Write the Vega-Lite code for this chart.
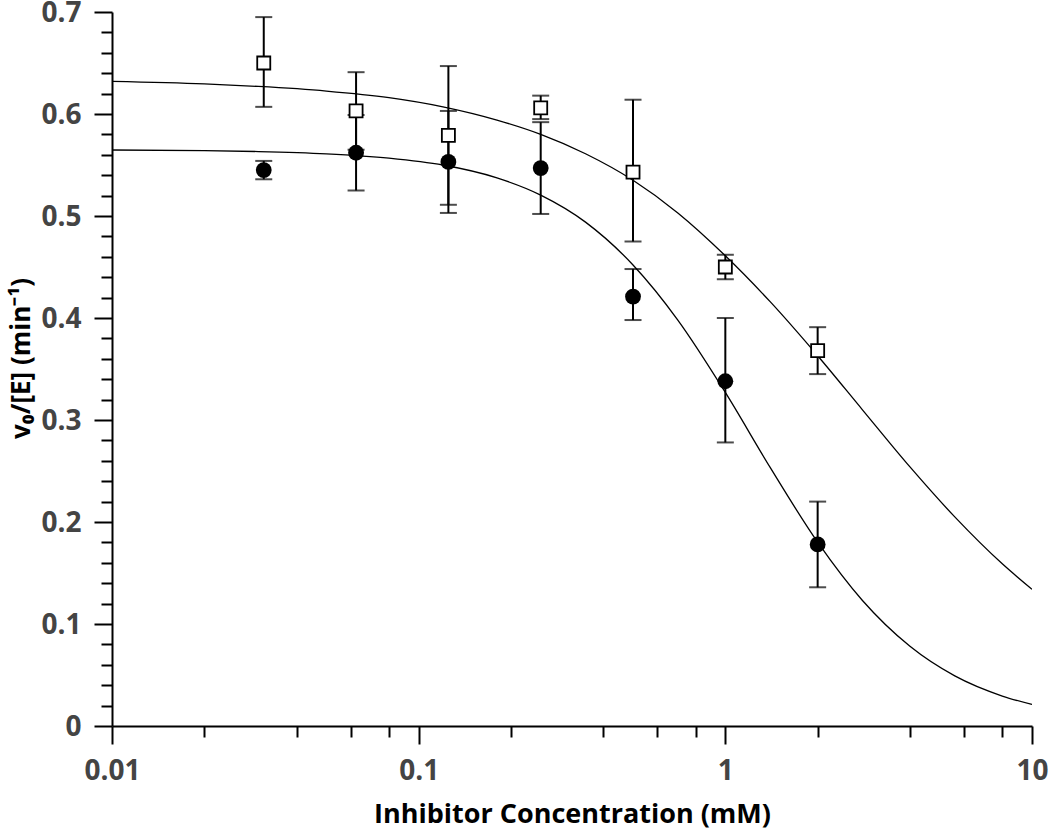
{
  "$schema": "https://vega.github.io/schema/vega-lite/v6.json",
  "width": 920,
  "height": 714,
  "autosize": {"type": "none"},
  "padding": {"left": 112, "top": 12, "right": 18, "bottom": 106},
  "background": "white",
  "config": {
    "view": {"stroke": null},
    "axis": {"labelOverlap": false, "labelBound": false, "labelFlush": false, "grid": false}
  },
  "resolve": {"axis": {"x": "independent", "y": "independent"}},
  "datasets": {
    "pts": [
      {"conc": 0.03125, "v": 0.545, "lo": 0.536, "hi": 0.554, "series": "circle"},
      {"conc": 0.0625, "v": 0.562, "lo": 0.525, "hi": 0.599, "series": "circle"},
      {"conc": 0.125, "v": 0.553, "lo": 0.503, "hi": 0.603, "series": "circle"},
      {"conc": 0.25, "v": 0.547, "lo": 0.502, "hi": 0.592, "series": "circle"},
      {"conc": 0.5, "v": 0.421, "lo": 0.398, "hi": 0.448, "series": "circle"},
      {"conc": 1, "v": 0.338, "lo": 0.278, "hi": 0.4, "series": "circle"},
      {"conc": 2, "v": 0.178, "lo": 0.136, "hi": 0.22, "series": "circle"},
      {"conc": 0.03125, "v": 0.65, "lo": 0.607, "hi": 0.695, "series": "square"},
      {"conc": 0.0625, "v": 0.603, "lo": 0.565, "hi": 0.641, "series": "square"},
      {"conc": 0.125, "v": 0.579, "lo": 0.511, "hi": 0.647, "series": "square"},
      {"conc": 0.25, "v": 0.606, "lo": 0.595, "hi": 0.618, "series": "square"},
      {"conc": 0.5, "v": 0.543, "lo": 0.475, "hi": 0.614, "series": "square"},
      {"conc": 1, "v": 0.45, "lo": 0.438, "hi": 0.462, "series": "square"},
      {"conc": 2, "v": 0.368, "lo": 0.345, "hi": 0.391, "series": "square"}
    ],
    "curve": [
      {"conc": 0.01, "v": 0.632, "series": "square"},
      {"conc": 0.02, "v": 0.6295, "series": "square"},
      {"conc": 0.03, "v": 0.627, "series": "square"},
      {"conc": 0.05, "v": 0.6225, "series": "square"},
      {"conc": 0.08, "v": 0.616, "series": "square"},
      {"conc": 0.12, "v": 0.607, "series": "square"},
      {"conc": 0.18, "v": 0.594, "series": "square"},
      {"conc": 0.25, "v": 0.58, "series": "square"},
      {"conc": 0.35, "v": 0.561, "series": "square"},
      {"conc": 0.5, "v": 0.535, "series": "square"},
      {"conc": 0.7, "v": 0.503, "series": "square"},
      {"conc": 1.0, "v": 0.461, "series": "square"},
      {"conc": 1.4, "v": 0.416, "series": "square"},
      {"conc": 2.0, "v": 0.363, "series": "square"},
      {"conc": 2.8, "v": 0.31, "series": "square"},
      {"conc": 4.0, "v": 0.254, "series": "square"},
      {"conc": 5.6, "v": 0.205, "series": "square"},
      {"conc": 8.0, "v": 0.159, "series": "square"},
      {"conc": 10, "v": 0.134, "series": "square"},
      {"conc": 0.01, "v": 0.5647, "series": "circle"},
      {"conc": 0.02, "v": 0.564, "series": "circle"},
      {"conc": 0.03, "v": 0.5632, "series": "circle"},
      {"conc": 0.05, "v": 0.561, "series": "circle"},
      {"conc": 0.08, "v": 0.5568, "series": "circle"},
      {"conc": 0.12, "v": 0.55, "series": "circle"},
      {"conc": 0.18, "v": 0.5374, "series": "circle"},
      {"conc": 0.25, "v": 0.5205, "series": "circle"},
      {"conc": 0.35, "v": 0.494, "series": "circle"},
      {"conc": 0.5, "v": 0.452, "series": "circle"},
      {"conc": 0.7, "v": 0.398, "series": "circle"},
      {"conc": 1.0, "v": 0.327, "series": "circle"},
      {"conc": 1.4, "v": 0.2535, "series": "circle"},
      {"conc": 2.0, "v": 0.1802, "series": "circle"},
      {"conc": 2.8, "v": 0.123, "series": "circle"},
      {"conc": 4.0, "v": 0.0781, "series": "circle"},
      {"conc": 5.6, "v": 0.0491, "series": "circle"},
      {"conc": 8.0, "v": 0.0294, "series": "circle"},
      {"conc": 10, "v": 0.0211, "series": "circle"}
    ]
  },
  "layer": [
    {
      "data": {"name": "curve"},
      "mark": {"type": "line", "color": "black", "strokeWidth": 1.3, "interpolate": "monotone", "clip": true},
      "encoding": {
        "x": {
          "field": "conc", "type": "quantitative",
          "scale": {"type": "log", "domain": [0.01, 10], "nice": false},
          "axis": {
            "orient": "bottom",
            "title": "Inhibitor Concentration (mM)",
            "values": [0.01, 0.1, 1, 10],
            "format": "~g",
            "tickSize": 18,
            "labelOverlap": false,
            "domainColor": "black", "domainWidth": 2,
            "tickColor": "black", "tickWidth": 2,
            "labelFont": "Open Sans", "labelFontSize": 28, "labelFontWeight": "bold", "labelColor": "#444444",
            "labelPadding": 13,
            "titleFont": "Open Sans", "titleFontSize": 27, "titleFontWeight": "bold", "titleColor": "black",
            "titlePadding": 16
          }
        },
        "y": {
          "field": "v", "type": "quantitative",
          "scale": {"domain": [0, 0.7], "nice": false, "zero": false},
          "axis": {
            "orient": "left",
            "title": "v₀/[E] (min⁻¹)",
            "values": [0, 0.1, 0.2, 0.3, 0.4, 0.5, 0.6, 0.7],
            "format": ".1~f",
            "tickSize": 18,
            "labelOverlap": false,
            "domainColor": "black", "domainWidth": 2,
            "tickColor": "black", "tickWidth": 2,
            "labelFont": "Open Sans", "labelFontSize": 28, "labelFontWeight": "bold", "labelColor": "#444444",
            "labelPadding": 13,
            "labelOffset": 1.5,
            "titleFont": "Open Sans", "titleFontSize": 26, "titleFontWeight": "bold", "titleColor": "black",
            "titlePadding": 6,
            "titleY": 346
          }
        },
        "detail": {"field": "series"}
      }
    },
    {
      "data": {"name": "pts"},
      "mark": {"type": "rule", "color": "black", "strokeWidth": 2},
      "encoding": {
        "x": {
          "field": "conc", "type": "quantitative",
          "axis": {
            "orient": "bottom", "title": null, "labels": false, "domain": false,
            "values": [0.02, 0.04, 0.06, 0.08, 0.2, 0.4, 0.6, 0.8, 2, 4, 6, 8],
            "tickSize": 11, "tickColor": "black", "tickWidth": 2
          }
        },
        "y": {
          "field": "lo", "type": "quantitative",
          "axis": {
            "orient": "left", "title": null, "labels": false, "domain": false,
            "values": [0.02, 0.04, 0.06, 0.08, 0.12, 0.14, 0.16, 0.18, 0.22, 0.24, 0.26, 0.28, 0.32, 0.34, 0.36, 0.38, 0.42, 0.44, 0.46, 0.48, 0.52, 0.54, 0.56, 0.58, 0.62, 0.64, 0.66, 0.68],
            "tickSize": 11, "tickColor": "black", "tickWidth": 2
          }
        },
        "y2": {"field": "hi"}
      }
    },
    {
      "data": {"name": "pts"},
      "mark": {"type": "tick", "orient": "horizontal", "color": "black", "size": 17, "thickness": 2},
      "encoding": {
        "x": {"field": "conc", "type": "quantitative", "axis": null},
        "y": {"field": "lo", "type": "quantitative", "axis": null}
      }
    },
    {
      "data": {"name": "pts"},
      "mark": {"type": "tick", "orient": "horizontal", "color": "black", "size": 17, "thickness": 2},
      "encoding": {
        "x": {"field": "conc", "type": "quantitative", "axis": null},
        "y": {"field": "hi", "type": "quantitative", "axis": null}
      }
    },
    {
      "data": {"name": "pts"},
      "transform": [{"filter": "datum.series === 'circle'"}],
      "mark": {"type": "point", "shape": "circle", "filled": true, "color": "black", "size": 250, "opacity": 1},
      "encoding": {
        "x": {"field": "conc", "type": "quantitative", "axis": null},
        "y": {"field": "v", "type": "quantitative", "axis": null}
      }
    },
    {
      "data": {"name": "pts"},
      "transform": [{"filter": "datum.series === 'square'"}],
      "mark": {"type": "point", "shape": "square", "filled": true, "fill": "white", "stroke": "black", "strokeWidth": 1.8, "size": 170, "opacity": 1},
      "encoding": {
        "x": {"field": "conc", "type": "quantitative", "axis": null},
        "y": {"field": "v", "type": "quantitative", "axis": null}
      }
    }
  ]
}
